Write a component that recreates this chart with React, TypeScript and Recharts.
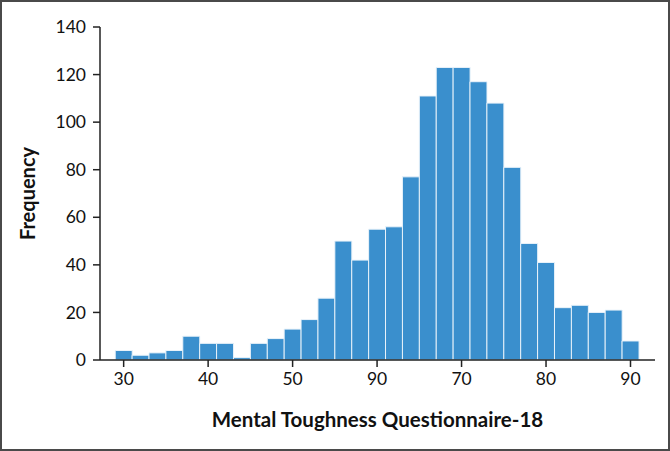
import React from "react";
import { BarChart, Bar, XAxis, YAxis, Label } from "recharts";

// bin centres (score) and counts
const binCenters = [
  30, 32, 34, 36, 38, 40, 42, 44, 46, 48, 50, 52, 54, 56, 58, 60, 62, 64, 66,
  68, 70, 72, 74, 76, 78, 80, 82, 84, 86, 88, 90,
];
const frequencies = [
  4, 2, 3, 4, 10, 7, 7, 1, 7, 9, 13, 17, 26, 50, 42, 55, 56, 77, 111, 123, 123,
  117, 108, 81, 49, 41, 22, 23, 20, 21, 8,
];

const xTicks = [30, 40, 50, 60, 70, 80, 90];
// the source figure prints "90" under the 60 tick
const xTickLabels = ["30", "40", "50", "90", "70", "80", "90"];
const yTicks = [0, 20, 40, 60, 80, 100, 120, 140];

const data = binCenters.map((score, i) => ({
  score,
  count: frequencies[i],
}));

const FONT = "Lato, 'Open Sans', sans-serif";
const AXIS = "#222";

const XTitle = (props: any) => {
  const vb = props.viewBox;
  return (
    <text
      x={vb.x + vb.width / 2}
      y={vb.y + 62}
      textAnchor="middle"
      dominantBaseline="middle"
      fontFamily={FONT}
      fontWeight={700}
      fontSize={20.5}
      fill="#111"
    >
      Mental Toughness Questionnaire-18
    </text>
  );
};

const YTitle = (props: any) => {
  const vb = props.viewBox;
  const cx = 30;
  const cy = vb.y + vb.height / 2;
  return (
    <text
      x={cx}
      y={cy}
      transform={`rotate(-90, ${cx}, ${cy})`}
      textAnchor="middle"
      dominantBaseline="middle"
      fontFamily={FONT}
      fontWeight={700}
      fontSize={20}
      fill="#111"
    >
      Frequency
    </text>
  );
};

export default function App() {
  return (
    <div
      style={{
        position: "fixed",
        left: 0,
        top: 0,
        width: 670,
        height: 451,
        boxSizing: "border-box",
        border: "2px solid #4a4a4a",
        background: "#fff",
      }}
    >
      <div style={{ position: "absolute", left: -2, top: -2 }}>
        <BarChart
          width={670}
          height={451}
          data={data}
          margin={{ top: 27, right: 15, bottom: 0, left: 0 }}
          barCategoryGap={0}
          barGap={0}
        >
          <XAxis
            dataKey="score"
            type="number"
            domain={[27.2, 92.9]}
            ticks={xTicks}
            tickFormatter={(v: number) => xTickLabels[xTicks.indexOf(v)]}
            height={91}
            axisLine={{ stroke: AXIS, strokeWidth: 1.5 }}
            tickLine={{ stroke: AXIS, strokeWidth: 1.5 }}
            tickSize={7}
            tickMargin={6}
            tick={{ fill: "#111", fontSize: 17.5, fontFamily: FONT }}
            allowDataOverflow
          >
            <Label content={XTitle} />
          </XAxis>
          <YAxis
            type="number"
            domain={[0, 140]}
            ticks={yTicks}
            width={100}
            axisLine={{ stroke: AXIS, strokeWidth: 1.5 }}
            tickLine={{ stroke: AXIS, strokeWidth: 1.5 }}
            tickSize={7}
            tickMargin={7}
            tick={{ fill: "#111", fontSize: 17.5, fontFamily: FONT }}
          >
            <Label content={YTitle} />
          </YAxis>
          <Bar
            dataKey="count"
            fill="#3A8FCD"
            stroke="#EAF3FA"
            strokeWidth={1}
            isAnimationActive={false}
          />
        </BarChart>
      </div>
    </div>
  );
}
